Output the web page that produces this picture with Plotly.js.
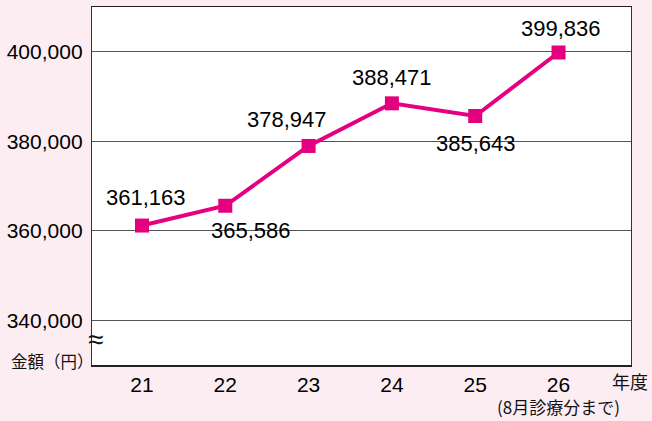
<!DOCTYPE html>
<html><head><meta charset="utf-8">
<script src="https://cdn.plot.ly/plotly-3.0.1.min.js"></script>
<style>html,body{margin:0;padding:0;background:#fcedf3;}</style>
</head><body>
<div id="chart" style="width:652px;height:421px;"></div>
<script>
const years = [21, 22, 23, 24, 25, 26];
const amounts = [361163, 365586, 378947, 388471, 385643, 399836];
const labels = ['361,163', '365,586', '378,947', '388,471', '385,643', '399,836'];
const yTicks = [340000, 360000, 380000, 400000];
const yTickText = ['340,000', '360,000', '380,000', '400,000'];

// label offsets (style, px)
const offs = [[4,-28],[26,25],[-22,-26],[0,-26],[1,27],[2,-24]];

const font = "'Liberation Sans', Arial, sans-serif";
const jfont = "'Noto Sans CJK JP', sans-serif";
const pink = '#e4007f';

const annotations = years.map((x, i) => ({
  x: x, y: amounts[i], xref: 'x', yref: 'y',
  text: labels[i], showarrow: false,
  xshift: offs[i][0], yshift: -offs[i][1],
  font: {family: font, size: 22, color: '#000'}
}));
annotations.push(
  {xref:'paper', yref:'paper', x:-0.154, y:0.012, xanchor:'left', yanchor:'middle', text:'金額（円）', showarrow:false, font:{family:jfont, size:16.5, color:'#111'}},
  {xref:'paper', yref:'paper', x:0.006, y:0.072, xanchor:'center', yanchor:'middle', text:'≈', showarrow:false, font:{family:font, size:28, color:'#111'}},
  {xref:'paper', yref:'paper', x:1.036, y:-0.045, xanchor:'right', yanchor:'middle', text:'年度', showarrow:false, font:{family:jfont, size:18, color:'#111'}},
  {x:26, xref:'x', yref:'paper', y:-0.117, xanchor:'center', yanchor:'middle', text:'(8月診療分まで)', showarrow:false, font:{family:jfont, size:17, color:'#111'}}
);

const trace = {
  x: years, y: amounts, type: 'scatter', mode: 'lines+markers',
  line: {color: pink, width: 4},
  marker: {symbol: 'square', size: 14, color: pink},
  hoverinfo: 'skip'
};

const layout = {
  width: 652, height: 421,
  margin: {l: 92, r: 21, t: 7, b: 56},
  paper_bgcolor: '#fcedf3', plot_bgcolor: '#ffffff',
  showlegend: false,
  xaxis: {
    range: [20.4, 26.87], tickvals: years, ticktext: years.map(String),
    showgrid: false, zeroline: false, ticks: '',
    showline: true, mirror: true, linecolor: '#222', linewidth: 1.5,
    ticklabelstandoff: 0,
    tickfont: {family: font, size: 21, color: '#000'}
  },
  yaxis: {
    range: [330000, 410000], tickvals: yTicks, ticktext: yTickText,
    showgrid: true, gridcolor: '#555', gridwidth: 1, zeroline: false, ticks: '',
    showline: true, mirror: true, linecolor: '#333', linewidth: 1.2,
    ticklabelstandoff: 4,
    tickfont: {family: font, size: 21, color: '#000'}
  },
  annotations: annotations
};

Plotly.newPlot('chart', [trace], layout, {displayModeBar: false, staticPlot: true});
</script>
</body></html>
